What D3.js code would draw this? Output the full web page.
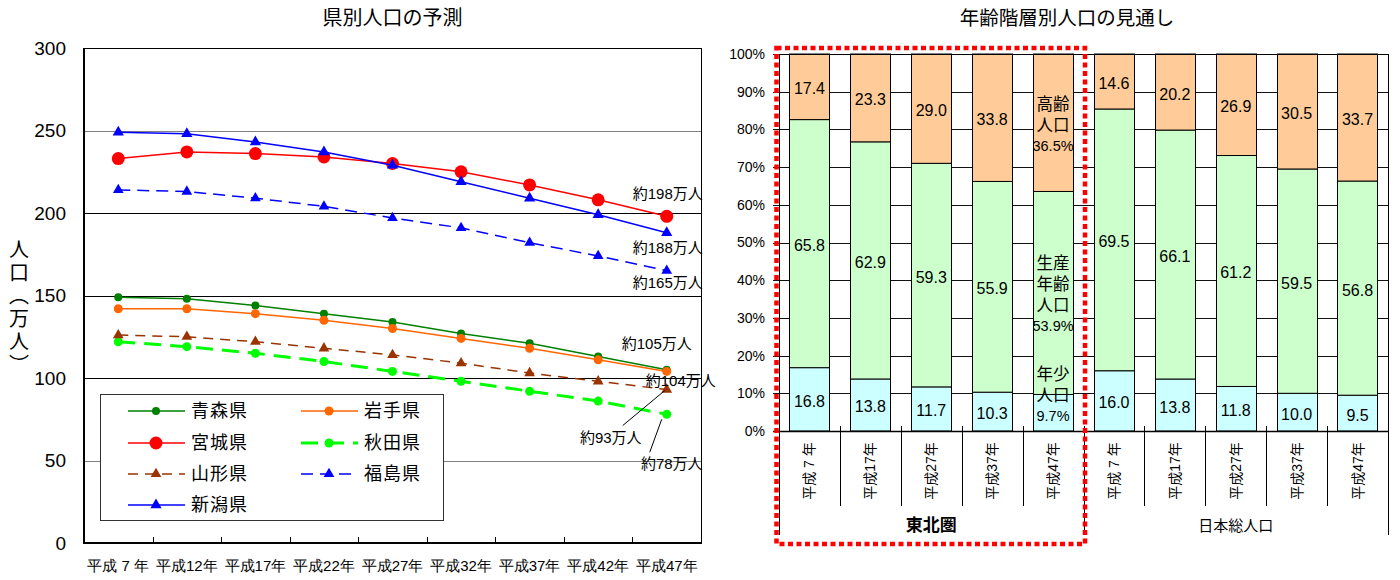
<!DOCTYPE html>
<html><head><meta charset="utf-8">
<script src="https://cdn.jsdelivr.net/npm/d3@7"></script>
<style>
body{margin:0;background:#fff;}
svg{display:block;font-family:"Liberation Sans",Arial,"Noto Sans CJK JP",sans-serif;}
</style></head><body>
<svg id="chart" width="1400" height="580"></svg>
<script>
// ---- 県別人口の予測 (万人) ----
const years = ["平成 7 年","平成12年","平成17年","平成22年","平成27年","平成32年","平成37年","平成42年","平成47年"];
const aomori    = [149,148,144,139,134,127,121,113,105];
const iwate     = [142,142,139,135,130,124,118,111,104];
const miyagi    = [233,237,236,234,230,225,217,208,198];
const akita     = [122,119,115,110,104,98,92,86,78];
const yamagata  = [126,125,122,118,114,109,103,98,93];
const fukushima = [214,213,209,204,197,191,182,174,165];
const niigata   = [249,248,243,237,229,219,209,199,188];
const popTicks  = [0,50,100,150,200,250,300];

// ---- 年齢階層別人口の見通し (%) ----
const ageYears = ["平成 7 年","平成17年","平成27年","平成37年","平成47年"];
const regions = ["東北圏","日本総人口"];
const ageGroups = ["年少人口","生産年齢人口","高齢人口"];
const tohokuYoung   = [16.8,13.8,11.7,10.3,9.7];
const tohokuWorking = [65.8,62.9,59.3,55.9,53.9];
const tohokuElderly = [17.4,23.3,29.0,33.8,36.5];
const japanYoung    = [16.0,13.8,11.8,10.0,9.5];
const japanWorking  = [69.5,66.1,61.2,59.5,56.8];
const japanElderly  = [14.6,20.2,26.9,30.5,33.7];
const pctTicks = [0,10,20,30,40,50,60,70,80,90,100];

const svg = d3.select("#chart");

// ================= Left: line chart =================
const L = {left:84, right:701, top:48, bottom:543};
const x = d3.scaleBand().domain(years).range([L.left, L.right]);
const y = d3.scaleLinear().domain([0,300]).range([L.bottom, L.top]);
const cx = i => x(years[i]) + x.bandwidth()/2;
const g1 = svg.append("g");

g1.append("text").attr("x",(L.left+L.right)/2).attr("y",25)
  .attr("text-anchor","middle").attr("font-size",20).text("県別人口の予測");

// gridlines
g1.selectAll("line.grid").data(popTicks.filter(t=>t>0 && t<300)).join("line")
  .attr("x1",L.left).attr("x2",L.right)
  .attr("y1",d=>Math.round(y(d))+0.5).attr("y2",d=>Math.round(y(d))+0.5)
  .attr("stroke",d=>(d===250||d===50)?"#808080":"#000").attr("stroke-width",1);
// frame
g1.append("line").attr("x1",L.left).attr("x2",L.right).attr("y1",L.top+0.5).attr("y2",L.top+0.5).attr("stroke","#000");
g1.append("line").attr("x1",L.right+0.5).attr("x2",L.right+0.5).attr("y1",L.top).attr("y2",L.bottom).attr("stroke","#000");

// axes
const ya = g1.append("g").attr("transform",`translate(${L.left},0)`)
  .call(d3.axisLeft(y).tickValues(popTicks).tickSize(0).tickPadding(18));
ya.select(".domain").remove();
ya.selectAll("text").attr("font-size",19).attr("font-family",null).attr("fill","#000");
const xa = g1.append("g").attr("transform",`translate(0,${L.bottom})`)
  .call(d3.axisBottom(x).tickSize(0).tickPadding(17));
xa.select(".domain").remove();
xa.selectAll("text").attr("font-size",15).attr("font-family",null).attr("fill","#000");
g1.selectAll("line.xtick").data(years.slice(1)).join("line")
  .attr("x1",d=>Math.round(x(d))+0.5).attr("x2",d=>Math.round(x(d))+0.5)
  .attr("y1",L.bottom-6).attr("y2",L.bottom).attr("stroke","#000");
g1.append("line").attr("x1",L.left).attr("x2",L.left).attr("y1",L.top).attr("y2",L.bottom+1).attr("stroke","#000").attr("stroke-width",2);
g1.append("line").attr("x1",L.left-1).attr("x2",L.right+1).attr("y1",L.bottom).attr("y2",L.bottom).attr("stroke","#000").attr("stroke-width",2);

// y-axis title, set vertically
g1.append("text").attr("x",19).attr("y",239)
  .style("writing-mode","vertical-rl").attr("font-size",20)
  .attr("letter-spacing",3).attr("font-family","Noto Sans CJK JP")
  .text("人口（万人）");

// series
const series = [
  {name:"青森県", data:aomori,    color:"#008000", dash:null,   width:1.5, marker:"circle", r:4},
  {name:"岩手県", data:iwate,     color:"#FF6600", dash:null,   width:1.5, marker:"circle", r:4.5},
  {name:"宮城県", data:miyagi,    color:"#FF0000", dash:null,   width:1.5, marker:"circle", r:6.5},
  {name:"秋田県", data:akita,     color:"#00FF00", dash:"17,9", width:3,   marker:"circle", r:4.5},
  {name:"山形県", data:yamagata,  color:"#993300", dash:"10,7", width:1.5, marker:"tri",    r:50},
  {name:"福島県", data:fukushima, color:"#0000FF", dash:"12,7", width:1.5, marker:"tri",    r:50},
  {name:"新潟県", data:niigata,   color:"#0000FF", dash:null,   width:1.5, marker:"tri",    r:55},
];
const line = d3.line().x((d,i)=>cx(i)).y(d=>y(d));
const tri = s => d3.symbol().type(d3.symbolTriangle).size(s)();

function drawMarker(sel, s){
  if(s.marker==="circle") sel.append("circle").attr("r",s.r).attr("fill",s.color);
  else sel.append("path").attr("d",tri(s.r)).attr("fill",s.color);
}

series.forEach(s=>{
  const gs = g1.append("g");
  gs.append("path").attr("d",line(s.data)).attr("fill","none")
    .attr("stroke",s.color).attr("stroke-width",s.width)
    .attr("stroke-dasharray",s.dash);
  s.data.forEach((v,i)=>{
    const m = gs.append("g").attr("transform",`translate(${cx(i)},${y(v)})`);
    drawMarker(m,s);
  });
});

// end-value annotations
const last = arr => arr[arr.length-1];
const notes = [
  {data:miyagi,    dx:1,   dy:-23},
  {data:niigata,   dx:1,   dy:15},
  {data:fukushima, dx:1,   dy:12},
  {data:aomori,    dx:-10, dy:-26},
  {data:iwate,     dx:14,  dy:9},
  {data:yamagata,  dx:-56, dy:48, leader:[-44,36,-2,1]},
  {data:akita,     dx:5,   dy:49, leader:[-17,38,-5,5]},
];
notes.forEach(n=>{
  const px = cx(years.length-1), py = y(last(n.data));
  if(n.leader){
    g1.append("line").attr("x1",px+n.leader[0]).attr("y1",py+n.leader[1])
      .attr("x2",px+n.leader[2]).attr("y2",py+n.leader[3]).attr("stroke","#000");
  }
  g1.append("text").attr("x",px+n.dx).attr("y",py+n.dy).attr("text-anchor","middle")
    .attr("dominant-baseline","central").attr("font-size",15).text(`約${last(n.data)}万人`);
});

// legend
const lg = g1.append("g");
lg.append("rect").attr("x",100.5).attr("y",394.5).attr("width",343).attr("height",126)
  .attr("fill","#fff").attr("stroke","#333");
const colX = [128,301], rowY = [411,443,474,505];
series.forEach((s,i)=>{
  const c = i%2, r = Math.floor(i/2);
  const gx = colX[c], gy = rowY[r];
  const e = lg.append("g").attr("transform",`translate(${gx},${gy})`);
  e.append("line").attr("x1",0).attr("x2",57).attr("y1",0).attr("y2",0)
    .attr("stroke",s.color).attr("stroke-width",s.width).attr("stroke-dasharray",s.dash);
  drawMarker(e.append("g").attr("transform","translate(28,0)"),s);
  e.append("text").attr("x",63).attr("y",0).attr("dominant-baseline","central")
    .attr("font-size",18).attr("letter-spacing",1).text(s.name);
});

// ================= Right: 100% stacked bars =================
const R = {left:779, right:1388, top:54, bottom:431};
const rows = [];
const sets = [[tohokuYoung,tohokuWorking,tohokuElderly],[japanYoung,japanWorking,japanElderly]];
regions.forEach((rg,ri)=>ageYears.forEach((yr,i)=>rows.push({
  key:rg+"|"+yr, region:rg, year:yr,
  young:sets[ri][0][i], working:sets[ri][1][i], elderly:sets[ri][2][i]})));
const keys = ["young","working","elderly"];
const fills = {young:"#CCFFFF", working:"#CCFFCC", elderly:"#FFCC99"};
const xb = d3.scaleBand().domain(rows.map(d=>d.key)).range([R.left,R.right]).paddingInner(0.34).paddingOuter(0.17);
const yb = d3.scaleLinear().domain([0,1]).range([R.bottom,R.top]);
const stacked = d3.stack().keys(keys).offset(d3.stackOffsetExpand)(rows);
const g2 = svg.append("g");

g2.append("text").attr("x",1067).attr("y",25).attr("text-anchor","middle")
  .attr("font-size",19.5).text("年齢階層別人口の見通し");

// gridlines + ticks
g2.selectAll("line.grid").data(pctTicks.filter(t=>t>0)).join("line")
  .attr("x1",R.left-6).attr("x2",R.right)
  .attr("y1",d=>Math.round(yb(d/100))+0.5).attr("y2",d=>Math.round(yb(d/100))+0.5)
  .attr("stroke","#111");
const yra = g2.append("g").attr("transform",`translate(${R.left},0)`)
  .call(d3.axisLeft(yb).tickValues(pctTicks.map(t=>t/100)).tickFormat(d=>Math.round(d*100)+"%").tickSize(0).tickPadding(14));
yra.select(".domain").remove();
yra.selectAll("text").attr("font-size",14).attr("font-family",null).attr("fill","#000");

// bars
stacked.forEach(layer=>{
  g2.append("g").selectAll("rect").data(layer).join("rect")
    .attr("x",d=>Math.round(xb(d.data.key))+0.5).attr("width",Math.round(xb.bandwidth()))
    .attr("y",d=>yb(d[1])).attr("height",d=>yb(d[0])-yb(d[1]))
    .attr("fill",fills[layer.key]).attr("stroke","#000").attr("stroke-width",1);
});

// frame
g2.append("line").attr("x1",R.left+0.5).attr("x2",R.left+0.5).attr("y1",R.top).attr("y2",R.bottom+104).attr("stroke","#000");
g2.append("line").attr("x1",R.right+0.5).attr("x2",R.right+0.5).attr("y1",R.top).attr("y2",R.bottom+104).attr("stroke","#000");
g2.append("line").attr("x1",R.left).attr("x2",R.right).attr("y1",R.top+0.5).attr("y2",R.top+0.5).attr("stroke","#000");
g2.append("line").attr("x1",R.left-6).attr("x2",R.right).attr("y1",R.bottom+0.5).attr("y2",R.bottom+0.5).attr("stroke","#000").attr("stroke-width",1.5);

// category separators
const slotGap = (xb.step()-xb.bandwidth())/2;
rows.slice(1).forEach(d=>{
  const bx = Math.round(xb(d.key)-slotGap)+0.5;
  const groupEdge = d.year===ageYears[0];
  g2.append("line").attr("x1",bx).attr("x2",bx).attr("y1",R.bottom-5)
    .attr("y2",groupEdge?R.bottom+104:R.bottom+75).attr("stroke","#000");
});

// segment value labels
const special = regions[0]+"|"+ageYears[ageYears.length-1];
stacked.forEach((layer,li)=>{
  layer.forEach(d=>{
    const v = d.data[layer.key];
    const bx = xb(d.data.key)+xb.bandwidth()/2;
    const mid = (yb(d[0])+yb(d[1]))/2;
    if(d.data.key===special){
      const name = ageGroups[li];
      const lines = [];
      for(let k=0;k<name.length;k+=2) lines.push(name.slice(k,k+2));
      lines.push(v.toFixed(1)+"%");
      const gap = 21;
      const first = li===0 ? mid+3-(lines.length-1)*gap : mid+2-(lines.length-1)*gap/2;
      lines.forEach((t,k)=>{
        g2.append("text").attr("x",bx).attr("y",first+k*gap).attr("text-anchor","middle")
          .attr("dominant-baseline","central").attr("font-size",k===lines.length-1?14.5:16.5)
          .attr("fill","#000").text(t);
      });
    } else {
      g2.append("text").attr("x",bx).attr("y",mid+2).attr("text-anchor","middle")
        .attr("dominant-baseline","central").attr("font-size",16).text(v.toFixed(1));
    }
  });
});

// rotated year labels
rows.forEach(d=>{
  const bx = xb(d.key)+xb.bandwidth()/2;
  g2.append("text").attr("transform",`translate(${bx},${R.bottom+40}) rotate(-90)`)
    .attr("text-anchor","middle").attr("dominant-baseline","central")
    .attr("font-size",14).text(d.year);
});

// region labels
regions.forEach((rg,ri)=>{
  const ks = rows.filter(d=>d.region===rg);
  const mx = (xb(ks[0].key)+xb(ks[ks.length-1].key)+xb.bandwidth())/2;
  g2.append("text").attr("x",mx).attr("y",R.bottom+94).attr("text-anchor","middle")
    .attr("dominant-baseline","central")
    .attr("font-size",ri===0?17:15).attr("font-weight",ri===0?"bold":"normal").text(rg);
});

// highlight frame around 東北圏
const bEdge = xb(rows[ageYears.length].key)-slotGap;
g2.append("rect").attr("x",R.left-2.5).attr("y",R.top-6)
  .attr("width",bEdge+1.5-(R.left-2.5)).attr("height",496)
  .attr("fill","none").attr("stroke","#FF0000").attr("stroke-width",4.5)
  .attr("stroke-dasharray","5,3.5");
</script>
</body></html>
